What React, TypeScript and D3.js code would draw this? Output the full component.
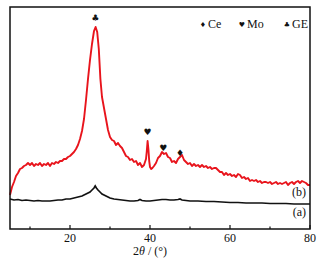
import React from "react";
import * as d3 from "d3";

const redX = [5,5.5,6,6.5,7,7.5,8,8.5,9,9.5,10,10.5,11,11.5,12,12.5,13,13.5,14,14.5,15,15.5,16,16.5,17,17.5,18,18.5,19,19.5,20,20.5,21,21.5,22,22.5,23,23.5,24,24.5,25,25.5,26,26.4,26.8,27.2,27.6,28,28.5,29,29.5,30,30.5,31,31.5,32,32.5,33,33.5,34,34.5,35,35.5,36,36.5,37,37.5,38,38.5,39,39.2,39.4,39.6,39.8,40,40.3,40.6,41,41.5,42,42.5,43,43.5,44,44.5,45,45.5,46,46.5,47,47.5,48,48.5,49,49.5,50,50.5,51,51.5,52,52.5,53,53.5,54,54.5,55,55.5,56,56.5,57,57.5,58,58.5,59,59.5,60,60.5,61,61.5,62,62.5,63,63.5,64,64.5,65,65.5,66,66.5,67,67.5,68,68.5,69,69.5,70,70.5,71,71.5,72,72.5,73,73.5,74,74.5,75,75.5,76,76.5,77,77.5,78,78.5,79,79.5,80];
const redY = [34,42,47,53,56,60,61,63,64,66,64,66,63,65,64,66,63,65,64,66,63,66,65,67,66,68,68,70,70,72,73,75,77,80,84,90,98,110,129,150,169,185,198,202,197,180,150,132,121,110,99,92,89,88,84,86,83,81,77,73,72,69,70,67,68,64,66,62,64,70,78,88,80,68,62,60,61,63,66,71,73,77,75,76,72,71,67,68,66,70,72,74,69,67,65,66,63,65,63,64,62,64,62,63,61,62,60,61,61,59,57,57,54,56,54,55,53,54,52,55,54,51,52,50,51,48,49,48,49,47,48,46,47,47,46,47,45,46,47,45,46,45,46,47,44,46,47,45,47,48,46,48,47,46,44,44,41];

const blackX = [5,6,7,8,9,10,11,12,13,14,15,16,17,18,19,20,21,22,23,24,25,25.5,26,26.3,26.6,27,27.5,28,28.5,29,30,31,32,33,34,35,36,37,37.5,38,39,40,41,42,43,44,45,46,47,47.5,48,49,50,52,54,56,58,60,62,64,66,68,70,72,74,76,78,80];
const blackY = [30,29,29.5,28.5,29,28.5,28,28.5,28,28,28,28.5,29,29,30,30,31,32,33,35,37,39,41,43,41,39,37,35,34,33,31,30,29.5,29,28.5,28,28,28.5,29.5,28.5,28,28,28.5,29,29.5,29.5,29,29,29.5,30,29,28.5,28,28,27.5,27.5,27,26.5,26.5,26,26,26,25.5,25.5,25.5,25,25,25];

const xTicksMajor = [20, 40, 60, 80];
const xTicksMinor = [10, 30, 50, 70];

const markerX = [26.3, 39.4, 43.3, 47.5];
const markerY = [211, 97, 81, 76];
const markerSym = ["\u2663", "\u2665", "\u2665", "\u2666"];

const legendSym = ["\u2666", "\u2665", "\u2663"];
const legendText = ["Ce", "Mo", "GE"];

const curveLabels = ["(b)", "(a)"];
const curveLabelY = [33, 13];

export default function App() {
  const W = 320, H = 262;
  const L = 10, R = 310, T = 7, B = 229;
  const x = d3.scaleLinear().domain([5, 80]).range([L, R]);
  const y = d3.scaleLinear().domain([0, 222]).range([B, T]);
  const line = d3.line<[number, number]>().x(d => x(d[0])).y(d => y(d[1]));
  const red = redX.map((v, i) => [v, redY[i]] as [number, number]);
  const black = blackX.map((v, i) => [v, blackY[i]] as [number, number]);
  const serif = "'Liberation Serif', 'Times New Roman', serif";
  const sym = "'DejaVu Sans', sans-serif";
  const legendXs = [203, 242, 287];
  return (
    <svg width={W} height={H} style={{ position: "absolute", left: 0, top: 0, background: "#fff" }}>
      <rect x={0} y={0} width={W} height={H} fill="#fff" />
      <path d={line(black) || ""} fill="none" stroke="#111" strokeWidth={1.7} />
      <path d={line(red) || ""} fill="none" stroke="#e8141c" strokeWidth={1.9} strokeLinejoin="round" />
      <rect x={L} y={T} width={R - L} height={B - T} fill="none" stroke="#111" strokeWidth={1.5} />
      {xTicksMajor.map(t => (
        <g key={"M" + t}>
          <line x1={x(t)} x2={x(t)} y1={B} y2={B - 4} stroke="#111" strokeWidth={1.2} />
          <text x={x(t)} y={242} textAnchor="middle" fontFamily={serif} fontSize={12} fill="#111">{t}</text>
        </g>
      ))}
      {xTicksMinor.map(t => (
        <line key={"m" + t} x1={x(t)} x2={x(t)} y1={B} y2={B - 2.5} stroke="#111" strokeWidth={1.2} />
      ))}
      <text x={150} y={255} textAnchor="middle" fontFamily={serif} fontSize={12} fill="#111">
        2<tspan fontStyle="italic">θ</tspan> / (°)
      </text>
      {markerX.map((m, i) => (
        <text key={"k" + i} x={x(m)} y={y(markerY[i]) + 3} textAnchor="middle" fontFamily={sym} fontSize={9} fill="#111">{markerSym[i]}</text>
      ))}
      {legendSym.map((s, i) => (
        <g key={"l" + i}>
          <text x={legendXs[i]} y={27} textAnchor="middle" fontFamily={sym} fontSize={7} fill="#111">{s}</text>
          <text x={legendXs[i] + 5} y={28} fontFamily={serif} fontSize={12} fill="#111">{legendText[i]}</text>
        </g>
      ))}
      {curveLabels.map((c, i) => (
        <text key={c} x={306} y={y(curveLabelY[i])} textAnchor="end" fontFamily={serif} fontSize={12} fill="#111">{c}</text>
      ))}
    </svg>
  );
}
